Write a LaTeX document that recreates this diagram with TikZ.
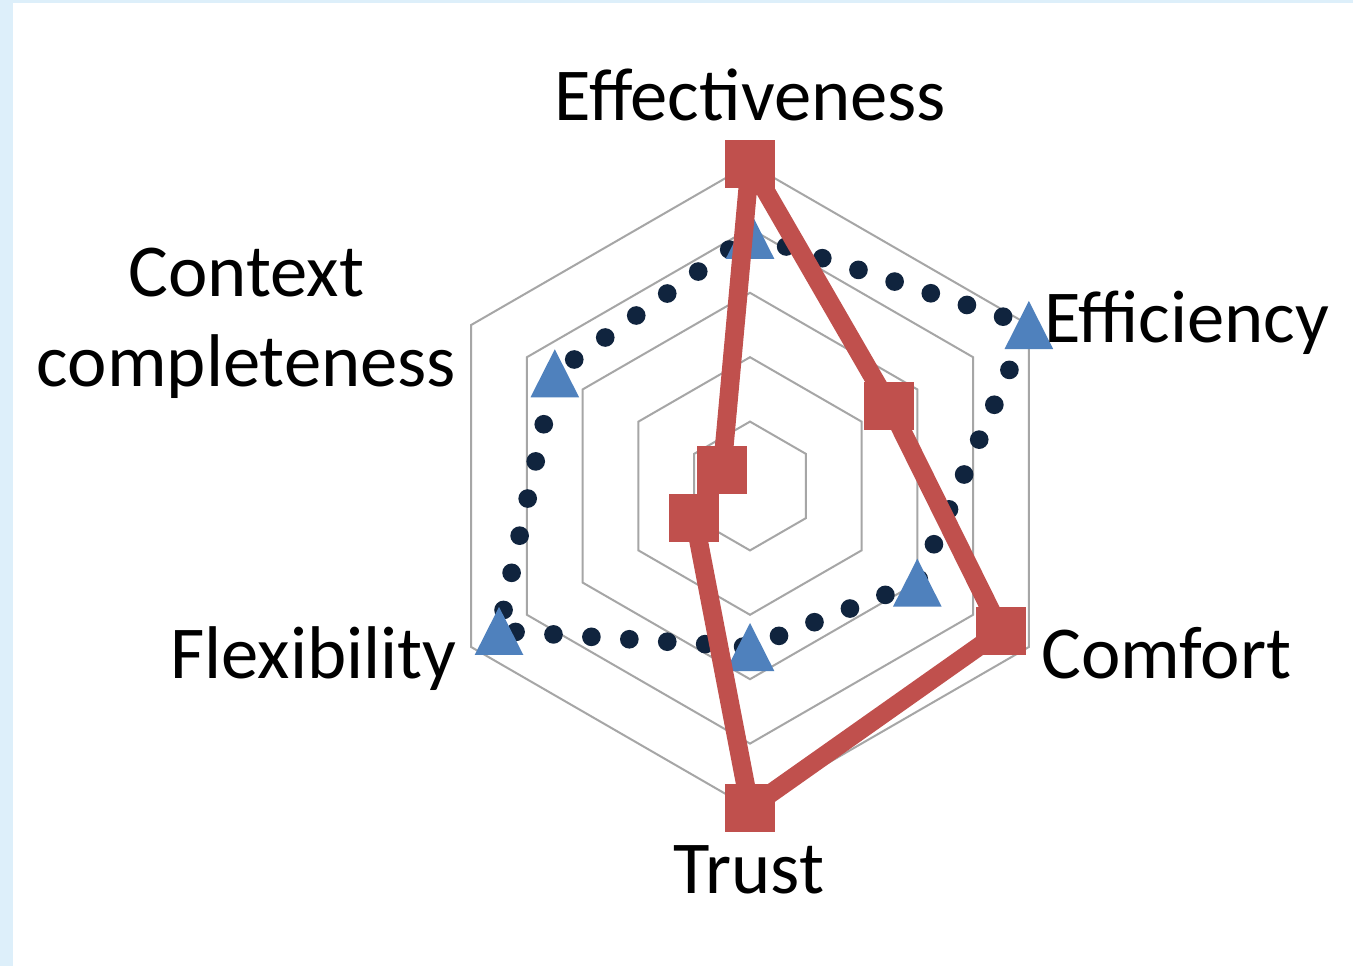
\documentclass[tikz,border=0pt]{standalone}
\usepackage{fontspec}
\setmainfont{Carlito}
\usepackage{tikz}

\definecolor{chartred}{RGB}{192,80,77}
\definecolor{chartblue}{RGB}{79,129,189}
\definecolor{chartnavy}{RGB}{16,36,62}
\definecolor{gridgray}{RGB}{166,166,166}
\definecolor{slideblue}{RGB}{221,239,250}

\tikzset{
  gridline/.style={draw=gridgray, line width=1.5pt},
  redline/.style={draw=chartred, line width=14pt, line join=round},
  dotline/.style={draw=chartnavy, line width=14pt, line cap=round, dash pattern=on 0pt off 28.5pt},
  redsq/.style={fill=chartred, inner sep=0pt, minimum width=37.5pt, minimum height=36pt},
  lbl/.style={inner sep=0pt, font=\fontsize{56}{69}\selectfont},
  bluetri/.pic={\fill[chartblue] (0,24) -- (24.3,-24) -- (-24.3,-24) -- cycle;}
}

\begin{document}
\begin{tikzpicture}[x=0.75pt,y=0.75pt,yscale=-1,xscale=1]
\useasboundingbox (0,0) rectangle (1353,966);

%Shape: slide background
\fill[slideblue] (0,0) rectangle (1353,966);
\fill[white] (13,3) rectangle (1353,966);

\begin{scope}[shift={(750,486)},yscale=-1]
%Shape: grid hexagons
\foreach \r in {64.4,128.8,193.2,257.6,322}
  \draw[gridline] (90:\r) -- (30:\r) -- (-30:\r) -- (-90:\r) -- (210:\r) -- (150:\r) -- cycle;

%Series 1: dotted line with triangles
\coordinate (b1) at (90:251.2);
\coordinate (b2) at (30:322);
\coordinate (b3) at (-30:193.2);
\coordinate (b4) at (-90:161);
\coordinate (b5) at (210:289.8);
\coordinate (b6) at (150:225.4);
\draw[dotline] (b1) -- (b2) -- (b3) -- (b4) -- (b5) -- (b6) -- cycle;
\foreach \i in {1,...,6}
  \pic at (b\i) {bluetri};

%Series 2: thick line with squares
\node[redsq] (r1) at (90:322) {};
\node[redsq] (r2) at (30:161) {};
\node[redsq] (r3) at (-30:289.8) {};
\node[redsq] (r4) at (-90:322) {};
\node[redsq] (r5) at (210:64.4) {};
\node[redsq] (r6) at (150:32.2) {};
\draw[redline] (r1.center) -- (r2.center) -- (r3.center) -- (r4.center) -- (r5.center) -- (r6.center) -- cycle;
\end{scope}

% Text Node
\node[lbl, anchor=base] (effl) at (750.5,121) {Effectiveness};
% Text Node
\node[lbl, anchor=base west] (effcl) at (1044,342) {Efficiency};
% Text Node
\node[lbl, anchor=base west] (comfl) at (1041,678) {Comfort};
% Text Node
\node[lbl, anchor=base] (trustl) at (749,893) {Trust};
% Text Node
\node[lbl, anchor=base east] (flexl) at (457,678) {Flexibility};
% Text Node
\node[lbl, anchor=base] (ctxl) at (246.5,297) {Context};
% Text Node
\node[lbl, anchor=base] (cmpl) at (246.5,386) {completeness};

\end{tikzpicture}
\end{document}
